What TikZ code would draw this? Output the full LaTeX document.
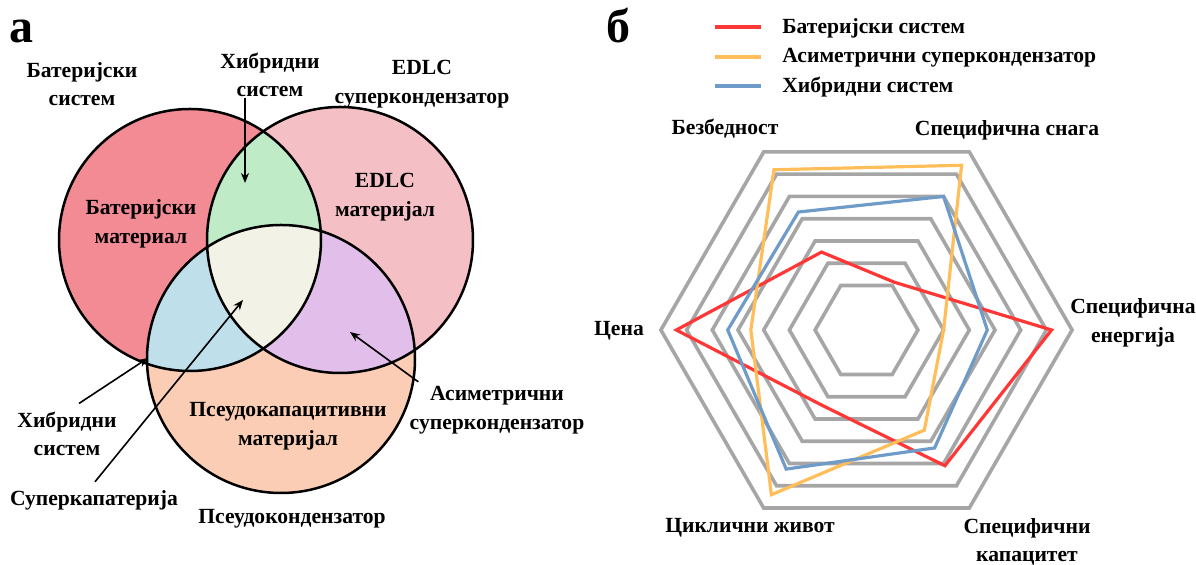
\documentclass[tikz,border=0pt]{standalone}
\usepackage{fontspec}
\setmainfont{Liberation Serif}
\usetikzlibrary{arrows.meta}
\definecolor{batred}{RGB}{243,139,148}
\definecolor{edlcpink}{RGB}{244,192,197}
\definecolor{pspeach}{RGB}{251,205,180}
\definecolor{hybgreen}{RGB}{192,235,199}
\definecolor{hybblue}{RGB}{191,223,235}
\definecolor{asympurple}{RGB}{226,190,234}
\definecolor{corecream}{RGB}{242,243,230}
\definecolor{gridgray}{RGB}{166,166,166}
\definecolor{batline}{RGB}{255,55,55}
\definecolor{asymline}{RGB}{255,190,90}
\definecolor{hybline}{RGB}{110,155,200}
\begin{document}
\begin{tikzpicture}[x=0.5pt, y=-0.5pt,
  every node/.style={font=\fontsize{10.8}{14.3}\selectfont\bfseries, align=center, inner sep=0pt},
  panel/.style={font=\fontsize{24}{24}\selectfont\bfseries},
  rim/.style={draw=black, line width=1.25pt},
  arr/.style={-{Stealth[length=5pt,width=4pt]}, line width=0.8pt},
  ring/.style={draw=gridgray, line width=1.8pt},
  ser/.style={line width=1.6pt}]
  \useasboundingbox (0,0) rectangle (1196,565);
  % panel a: venn
  \node[panel] (pa) at (22,31) {а};
  \coordinate (cbat) at (190,240);
  \coordinate (cedlc) at (340,240);
  \coordinate (cpseudo) at (281,359);
  \fill[batred] (cbat) circle[radius=131];
  \fill[edlcpink] (cedlc) circle[radius=133];
  \fill[pspeach] (cpseudo) circle[radius=134];
  \begin{scope}
    \clip (cedlc) circle[radius=133];
    \fill[asympurple] (cpseudo) circle[radius=134];
  \end{scope}
  \begin{scope}
    \clip (cbat) circle[radius=131];
    \fill[hybgreen] (cedlc) circle[radius=133];
    \fill[hybblue] (cpseudo) circle[radius=134];
    \clip (cedlc) circle[radius=133];
    \fill[corecream] (cpseudo) circle[radius=134];
  \end{scope}
  \draw[rim] (cbat) circle[radius=131];
  \draw[rim] (cedlc) circle[radius=133];
  \draw[rim] (cpseudo) circle[radius=134];
  % labels round the circles
  \node (batsys) at (82,84) {Батеријски\\систем};
  \node (hybtop) at (270,75) {Хибридни\\систем};
  \node (edlcsys) at (422,84) {EDLC\\суперкондензатор};
  \node (batmat) at (141,224) {Батеријски\\материал};
  \node (edlcmat) at (385,197) {EDLC\\материјал};
  \node (pseudomat) at (288,426) {Псеудокапацитивни\\материјал};
  \node (hybleft) at (67,434) {Хибридни\\систем};
  \node (supcap) at (94,500) {Суперкапатерија};
  \node (pseudocap) at (292,519) {Псеудокондензатор};
  \node (asym) at (497,410) {Асиметрични\\суперкондензатор};
  % arrows into the overlaps
  \coordinate (hybtip) at (245,183);
  \coordinate (hybltip) at (148,358);
  \coordinate (coretip) at (243,300);
  \coordinate (asymtip) at (350,332);
  \draw[arr] (hybtop.south -| hybtip) -- (hybtip);
  \draw[arr] ([shift={(12,-8)}]hybleft.north) -- (hybltip);
  \draw[arr] ([shift={(1,-8)}]supcap.north) -- (coretip);
  \draw[arr] ([shift={(9,-4)}]asym.north west) -- (asymtip);
  % panel b: radar
  \node[panel] (pb) at (618,26) {б};
  \draw[batline, line width=2pt] (715,27) -- (761,27);
  \draw[asymline, line width=2pt] (715,57) -- (761,57);
  \draw[hybline, line width=2pt] (715,86) -- (761,86);
  \node[anchor=west] (legbat) at (782,28) {Батеријски систем};
  \node[anchor=west] (legasym) at (782,58) {Асиметрични суперкондензатор};
  \node[anchor=west] (leghyb) at (782,87) {Хибридни систем};
  \begin{scope}[shift={(866.5,330)}, x=12.85pt, y=12.85pt]
    \foreach \k in {2,...,8}
      \draw[ring] (0:\k) -- (60:\k) -- (120:\k) -- (180:\k) -- (240:\k) -- (300:\k) -- cycle;
    \draw[ser, batline] (180:7.4) -- (120:3.5) -- (60:2.15) -- (0:7.2) -- (300:6.1) -- (240:3.4) -- cycle;
    \draw[ser, asymline] (180:4.5) -- (120:7.2) -- (60:7.4) -- (0:3.0) -- (300:4.5) -- (240:7.4) -- cycle;
    \draw[ser, hybline] (180:5.4) -- (120:5.3) -- (60:6.0) -- (0:4.7) -- (300:5.3) -- (240:6.25) -- cycle;
  \end{scope}
  \node (safety) at (725,129) {Безбедност};
  \node (power) at (1007,130) {Специфична снага};
  \node (energy) at (1133,323) {Специфична\\енергија};
  \node (price) at (619,331) {Цена};
  \node (cycle) at (750,528) {Циклични живот};
  \node (capacity) at (1027,542) {Специфични\\капацитет};
\end{tikzpicture}
\end{document}
